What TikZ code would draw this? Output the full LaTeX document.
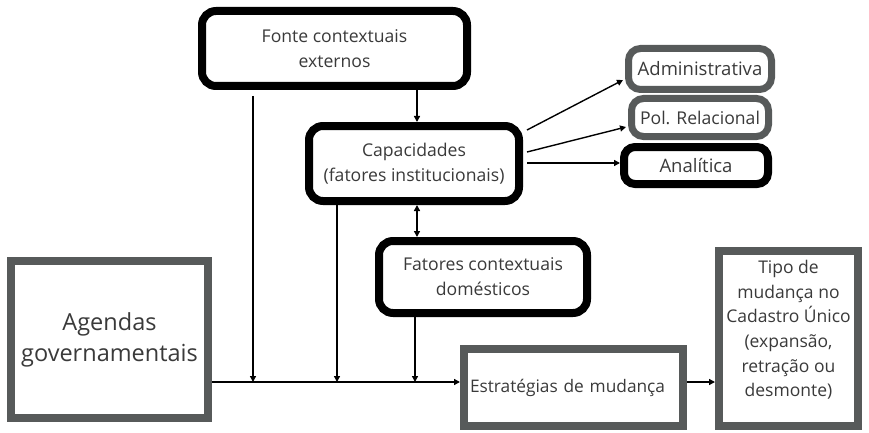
\documentclass[tikz,border=0pt]{standalone}
\usepackage{fontspec}
\setmainfont{Open Sans}
\usetikzlibrary{arrows.meta}
\definecolor{boxgray}{HTML}{575A5A}
\definecolor{txtgray}{HTML}{3A3A3A}
\tikzset{
  blkbox/.style={draw=black, line width=8pt, rounded corners=14pt, fill=white, align=center, text=txtgray, font=\fontsize{17.6}{25}\selectfont, inner sep=0pt},
  grybox/.style={draw=boxgray, line width=7pt, rounded corners=12pt, fill=white, align=center, text=txtgray, font=\fontsize{17.6}{25}\selectfont, inner sep=0pt},
  sqrbox/.style={draw=boxgray, line width=8pt, fill=white, text=txtgray, inner sep=0pt},
  arr/.style={-{Triangle[length=6pt,width=6pt]}, line width=1.4pt},
  darr/.style={{Triangle[length=6pt,width=6pt]}-{Triangle[length=6pt,width=6pt]}, line width=1.4pt},
}
\begin{document}
\begin{tikzpicture}[x=1pt,y=-1pt]
\useasboundingbox (0,0) rectangle (869,433);
% boxes
\node[blkbox, minimum width=265pt, minimum height=75pt] (fonte) at (334.5,48.5) {Fonte contextuais\\externos};
\node[blkbox, minimum width=210pt, minimum height=75pt] (cap) at (414,163.5) {Capacidades\\(fatores institucionais)};
\node[blkbox, minimum width=208pt, minimum height=72pt] (fat) at (483,277) {Fatores contextuais\\domésticos};
\node[grybox, minimum width=143pt, minimum height=41pt, font=\fontsize{18.5}{25}\selectfont] (adm) at (700,69) {Administrativa};
\node[grybox, minimum width=137pt, minimum height=38pt, font=\fontsize{17.6}{25}\selectfont] (pol) at (700,117.5) {Pol. Relacional};
\node[blkbox, minimum width=144pt, minimum height=37pt, rounded corners=11pt, font=\fontsize{18.5}{25}\selectfont] (ana) at (696,165.5) {Analítica};
\node[sqrbox, minimum width=197pt, minimum height=157pt, align=center, font=\fontsize{23.5}{31}\selectfont] (age) at (109.5,339.5) {Agendas\\governamentais};
\node[sqrbox, minimum width=219pt, minimum height=77pt, text width=207pt, inner xsep=6pt, align=left, font=\fontsize{17.3}{25}\selectfont] (est) at (573.5,387.5) {Estratégias de mudança};
\node[sqrbox, minimum width=139pt, minimum height=175pt] (tipo) at (788.5,338.5) {};
\node[align=center, text=txtgray, font=\fontsize{17.5}{24.6}\selectfont, inner sep=0pt] (tipotxt) at (788.5,330) {Tipo de\\mudança no\\Cadastro Único\\(expansão,\\retração ou\\desmonte)};
% helper coordinates
\coordinate (xa) at (253,0);
\coordinate (xb) at (337,0);
\coordinate (xc) at (417,0);
\coordinate (xd) at (415,0);
\coordinate (ym) at (0,382);
\coordinate (y1) at (0,130);
\coordinate (y2) at (0,152);
\coordinate (y3) at (0,163);
\coordinate (t1) at (0,80);
\coordinate (t2) at (0,127);
% connectors
\draw[arr] (fonte.south -| xc) -- (cap.north -| xc);
\draw[arr] ([yshift=-6pt]fonte.south -| xa) -- (ym -| xa);
\draw[arr] (cap.south -| xb) -- (ym -| xb);
\draw[darr] (cap.south -| xc) -- (fat.north -| xc);
\draw[arr] (fat.south -| xd) -- (ym -| xd);
\draw[arr] (age.east |- ym) -- (est.west |- ym);
\draw[arr] (est.east |- ym) -- (tipo.west |- ym);
\draw[arr] ([xshift=4pt]cap.east |- y1) -- ([xshift=-2pt]adm.west |- t1);
\draw[arr] ([xshift=4pt]cap.east |- y2) -- ([xshift=-2pt]pol.west |- t2);
\draw[arr] ([xshift=4pt]cap.east |- y3) -- (ana.west |- y3);
\end{tikzpicture}
\end{document}
